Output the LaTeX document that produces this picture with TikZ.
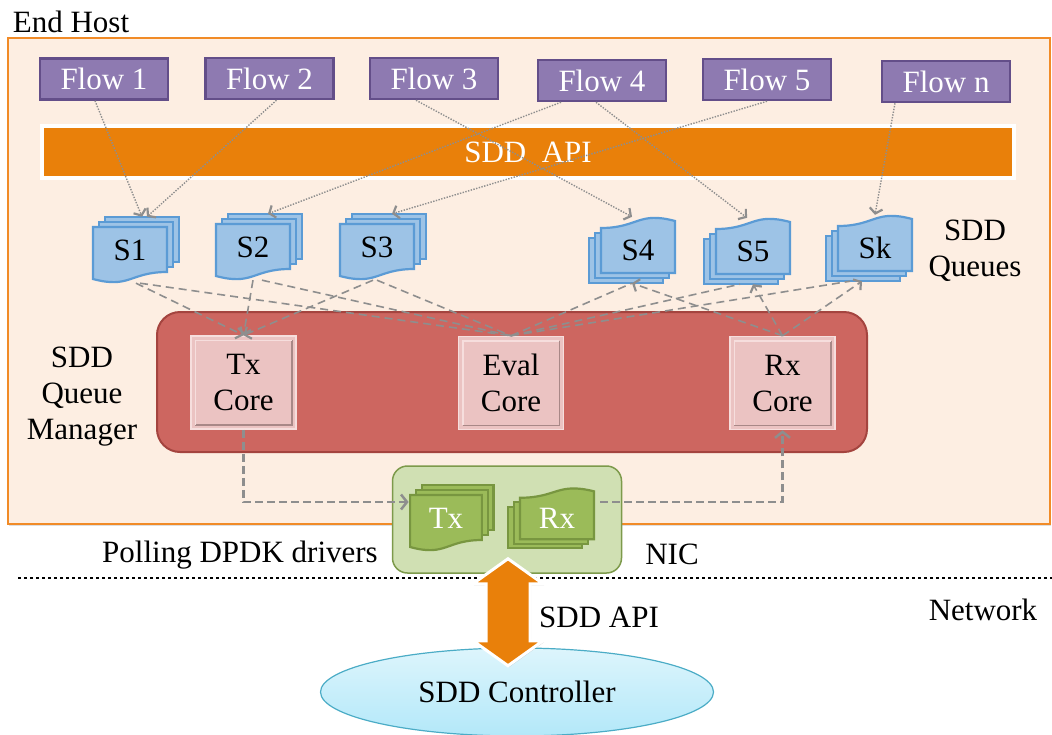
\documentclass[tikz,border=0pt]{standalone}
\usepackage{fontspec}
\setmainfont{Liberation Serif}
\usetikzlibrary{arrows.meta,shapes.geometric,shadows}

\definecolor{hostfill}{HTML}{FDEEE2}
\definecolor{hostline}{HTML}{F18B27}
\definecolor{flowfill}{HTML}{8E7AB1}
\definecolor{flowline}{HTML}{634E89}
\definecolor{apiorange}{HTML}{E9800A}
\definecolor{qfill}{HTML}{9DC3E6}
\definecolor{qline}{HTML}{5B9BD5}
\definecolor{mgrfill}{HTML}{CD6660}
\definecolor{mgrline}{HTML}{A4443F}
\definecolor{corefill}{HTML}{EBC3C2}
\definecolor{corelight}{HTML}{F6DEDD}
\definecolor{coredark}{HTML}{A88887}
\definecolor{nicfill}{HTML}{D0E0B3}
\definecolor{nicline}{HTML}{7D9A4B}
\definecolor{gdoc}{HTML}{9BBB59}
\definecolor{gdocline}{HTML}{789640}
\definecolor{ctrltop}{HTML}{DDF5FC}
\definecolor{ctrlbot}{HTML}{B3E8F9}
\definecolor{ctrlline}{HTML}{4BACC6}
\definecolor{link}{HTML}{8E8E8E}

\newcommand\labelfont{\fontsize{31}{36}\selectfont}

\tikzset{
  hostbox/.style={draw=hostline, line width=1.6pt, fill=hostfill,
    drop shadow={opacity=0.25, shadow xshift=1pt, shadow yshift=-1.5pt}},
  flowbox/.style={draw=flowline, line width=2.5pt, fill=flowfill, text=white,
    minimum width=128pt, minimum height=41pt, inner sep=0pt},
  apibar/.style={draw=white, line width=4pt, fill=apiorange, text=white,
    minimum width=972pt, minimum height=52pt, inner sep=0pt,
    drop shadow={opacity=0.3, shadow xshift=1.5pt, shadow yshift=-2pt}},
  mgrbox/.style={rounded corners=23pt, draw=mgrline, line width=2pt, fill=mgrfill,
    minimum width=710pt, minimum height=140pt, inner sep=0pt},
  corebox/.style={draw=corelight, line width=1.5pt, fill=corefill,
    minimum width=105pt, minimum height=93pt, align=center, inner sep=0pt},
  nicbox/.style={rounded corners=15pt, draw=nicline, line width=1.5pt, fill=nicfill,
    minimum width=229pt, minimum height=107pt, inner sep=0pt},
  ctrlnode/.style={ellipse, draw=ctrlline, line width=1.2pt, top color=ctrltop,
    bottom color=ctrlbot, minimum width=393pt, minimum height=88pt, inner sep=0pt},
  apiarrow/.style={fill=apiorange, draw=white, line width=3pt, line join=miter,
    drop shadow={opacity=0.3, shadow xshift=1pt, shadow yshift=-1.5pt}},
  plain/.style={inner sep=0pt, align=center},
  stackbox/.style={minimum width=86pt, minimum height=66pt, inner sep=0pt},
  stacklabel/.style={inner sep=0pt},
  blue stack/.style={sheet/.style={fill=qfill, draw=qline, line width=2.2pt},
    stacklabel/.style={inner sep=0pt, text=black}},
  green stack/.style={sheet/.style={fill=gdoc, draw=gdocline, line width=2.2pt},
    stacklabel/.style={inner sep=0pt, text=white}},
  % a stack of three sheets, the front one with a wavy lower edge
  docstack/.pic={
    \foreach \k in {2,1}
      \path[sheet] (-37+6*\k,-23-5*\k) rectangle (37+6*\k,22-5*\k);
    \path[sheet] (-37,-23) -- (37,-23) -- (37,22)
      .. controls (0,22) and (0,39) .. (-37,29) -- cycle;
    \node[stackbox] (-b) at (6,0) {};
    \node[stacklabel] (-t) at (0,0) {#1};
  },
  qlink/.style={draw=link, line width=1.6pt, dash pattern=on 8pt off 5pt},
  qarrow/.style={qlink, -{Straight Barb[line width=2.2pt, length=5pt, width=13pt]}},
  flowlink/.style={draw=link, line width=1.4pt, dash pattern=on 1.4pt off 1.4pt,
    -{Straight Barb[line width=2.2pt, length=5pt, width=13pt]}},
  niclink/.style={draw=link, line width=2.8pt, dash pattern=on 8pt off 4pt,
    -{Straight Barb[line width=2.5pt, length=6pt, width=15pt]}},
  netline/.style={draw=black, line width=2.7pt, dash pattern=on 2.7pt off 3.3pt},
  bevdark/.style={draw=coredark, line width=1.5pt},
  bevlight/.style={draw=corelight, line width=1.5pt},
}

\begin{document}
\begin{tikzpicture}[x=1pt, y=-1pt, font=\labelfont]
\useasboundingbox (0,0) rectangle (1052,734);

% end host frame and title
\node[hostbox, minimum width=1042pt, minimum height=486pt] (host) at (529,281) {};
\node[plain] (hosttitle) at (71,22) {End Host};

% API bar
\node[apibar] (apibar) at (528,152) {SDD\ \ API};

% flows
\node[flowbox] (F1) at (104,79) {Flow 1};
\node[flowbox] (F2) at (269.5,78.5) {Flow 2};
\node[flowbox] (F3) at (434,78.5) {Flow 3};
\node[flowbox] (F4) at (602,80.5) {Flow 4};
\node[flowbox] (F5) at (767,79.5) {Flow 5};
\node[flowbox] (Fn) at (946,81.5) {Flow n};

% queue manager with its cores
\node[mgrbox] (mgr) at (512,382) {};
\node[corebox] (txcore) at (243.5,382.5) {Tx\\Core};
\node[corebox] (evalcore) at (511,383) {Eval\\Core};
\node[corebox] (rxcore) at (782.5,383) {Rx\\Core};
\foreach \c in {txcore,evalcore,rxcore} {
  \path[bevdark] ([shift={(-5,5)}]\c.north east) -- ([shift={(-5,-5)}]\c.south east)
    -- ([shift={(5,-5)}]\c.south west);
  \path[bevlight] ([shift={(5,-5)}]\c.south west) -- ([shift={(5,5)}]\c.north west)
    -- ([shift={(-5,5)}]\c.north east);
}
\node[plain] (mgrtitle) at (82,397) {SDD\\Queue\\Manager};

% queue stacks
\pic[blue stack] (S1) at (130,250) {docstack=S1};
\pic[blue stack] (S2) at (253,247) {docstack=S2};
\pic[blue stack] (S3) at (377,247) {docstack=S3};
\pic[blue stack, rotate=180] (S4) at (638,250) {docstack=S4};
\pic[blue stack, rotate=180] (S5) at (753,251) {docstack=S5};
\pic[blue stack, rotate=180] (Sk) at (875,248) {docstack=Sk};
\node[plain] (qtitle) at (975,251) {SDD\\Queues};

% queues to cores
\draw[qarrow] (S1-b.south) -- (txcore.north);
\draw[qarrow] ([xshift=-6pt]S2-b.south) -- (txcore.north);
\draw[qarrow] ([xshift=-10pt]S3-b.south) -- (txcore.north);
\draw[qlink] ([xshift=4pt]S1-b.south) -- (evalcore.north);
\draw[qlink] ([xshift=3pt]S2-b.south) -- (evalcore.north);
\draw[qlink] ([xshift=-6pt]S3-b.south) -- (evalcore.north);
\draw[qlink] (evalcore.north) -- (S4-b.south);
\draw[qlink] (evalcore.north) -- ([xshift=-7pt]S5-b.south);
\draw[qlink] (evalcore.north) -- ([xshift=-19pt]Sk-b.south);
\draw[qarrow] (rxcore.north) -- (S4-b.south);
\draw[qarrow] (rxcore.north) -- ([xshift=6pt]S5-b.south);
\draw[qarrow] (rxcore.north) -- ([xshift=-7pt]Sk-b.south);

% flows through the API into queues
\draw[flowlink] ([xshift=-9pt]F1.south) -- ([xshift=6pt]S1-b.north);
\draw[flowlink] ([xshift=7pt]F2.south) -- ([xshift=11pt]S1-b.north);
\draw[flowlink] ([xshift=-18pt]F3.south) -- (S4-b.north);
\draw[flowlink] ([xshift=-41pt]F4.south) -- ([xshift=9pt]S2-b.north);
\draw[flowlink] ([xshift=-6pt]F4.south) -- (S5-b.north);
\draw[flowlink] (F5.south) -- ([xshift=9pt]S3-b.north);
\draw[flowlink] ([xshift=-51pt]Fn.south) -- ([xshift=6pt]Sk-b.north);

% network boundary
\draw[netline] (18,578) -- (1052,578);

% NIC with its tx and rx rings
\node[nicbox] (nic) at (507,519.5) {};
\pic[green stack, xscale=0.97] (ntx) at (446,518) {docstack=Tx};
\pic[green stack, yscale=0.92, rotate=180] (nrx) at (557,518) {docstack=Rx};
\draw[niclink] (txcore.south) |- ([yshift=16pt]ntx-b.west);
\draw[niclink] ([xshift=6pt, yshift=16pt]nrx-b.east) -| (rxcore.south);

\node[plain, anchor=base] (polling) at (240,562) {Polling DPDK drivers};
\node[plain] (niclabel) at (672,554) {NIC};
\node[plain] (network) at (983,610) {Network};

% controller, and the two-way API arrow between it and the NIC
\node[ctrlnode] (ctrl) at (517,692) {SDD Controller};
\coordinate (apitop) at ([xshift=1pt, yshift=15pt]nic.south);
\path[apiarrow] (apitop) -- ++(35,25) -- ++(-13,0) -- ++(0,57) -- ++(13,0)
  -- ++(-35,25) -- ++(-35,-25) -- ++(13,0) -- ++(0,-57) -- ++(-13,0) -- cycle;
\node[plain, anchor=west] (apilabel) at (539,617) {SDD API};
\end{tikzpicture}
\end{document}
